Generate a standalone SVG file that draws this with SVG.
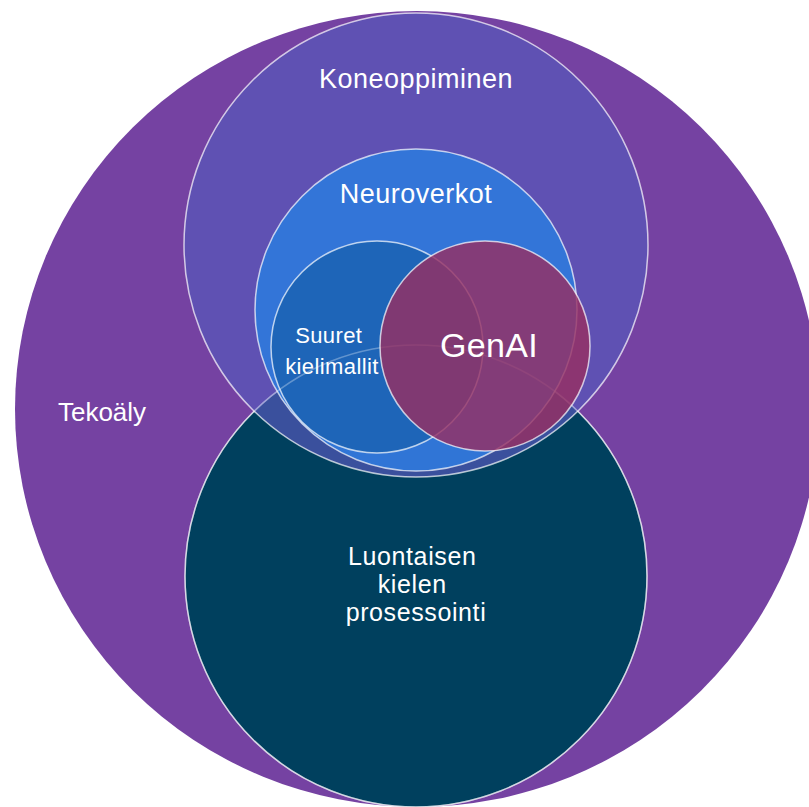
<svg xmlns="http://www.w3.org/2000/svg" width="809" height="807" viewBox="0 0 809 807">
  <style>
    .edge { stroke: #ffffff; stroke-opacity: 0.7; stroke-width: 1.5; }
    .lbl { font-family: "Liberation Sans", Arial, Helvetica, sans-serif; fill: #ffffff; text-anchor: middle; }
  </style>
  <defs>
    <circle id="nlp-shape" cx="416" cy="576" r="231"/>
  </defs>

  <!-- Tekoäly: outermost field -->
  <g id="tekoaly">
    <ellipse cx="417" cy="409" rx="402" ry="398" fill="#7542A2"/>
    <text class="lbl" x="102" y="421" font-size="26">Tekoäly</text>
  </g>

  <!-- Luontaisen kielen prosessointi -->
  <g id="nlp">
    <use href="#nlp-shape" fill="#00405E" class="edge"/>
    <text class="lbl" font-size="25" letter-spacing="0.6">
      <tspan x="416" y="565">Luontaisen</tspan>
      <tspan x="416" y="593">kielen</tspan>
      <tspan x="416" y="621">prosessointi</tspan>
    </text>
  </g>

  <!-- Koneoppiminen -->
  <g id="koneoppiminen">
    <circle cx="416" cy="245" r="232" fill="#5658BB" fill-opacity="0.68" class="edge"/>
    <text class="lbl" x="416" y="88" font-size="27" letter-spacing="0.5">Koneoppiminen</text>
  </g>

  <!-- Neuroverkot -->
  <g id="neuroverkot">
    <circle cx="416" cy="310" r="161" fill="#3078DB" fill-opacity="0.92" class="edge"/>
    <text class="lbl" x="416" y="203" font-size="27" letter-spacing="0.5">Neuroverkot</text>
  </g>

  <!-- Suuret kielimallit -->
  <g id="suuret-kielimallit">
    <circle cx="377" cy="347" r="106" fill="#1B63B3" fill-opacity="0.85" class="edge"/>
    <text class="lbl" font-size="22" letter-spacing="0.4">
      <tspan x="332" y="343">Suuret</tspan>
      <tspan x="332" y="374">kielimallit</tspan>
    </text>
  </g>

  <!-- faint NLP rim seen through the upper layers -->
  <g id="nlp-rim">
    <use href="#nlp-shape" fill="none" stroke="#ffffff" stroke-opacity="0.3" stroke-width="1.5"/>
  </g>

  <!-- GenAI -->
  <g id="genai">
    <circle cx="485" cy="346" r="105" fill="#963063" fill-opacity="0.82" class="edge"/>
    <text class="lbl" x="489" y="357" font-size="34" letter-spacing="0.3">GenAI</text>
  </g>
</svg>
